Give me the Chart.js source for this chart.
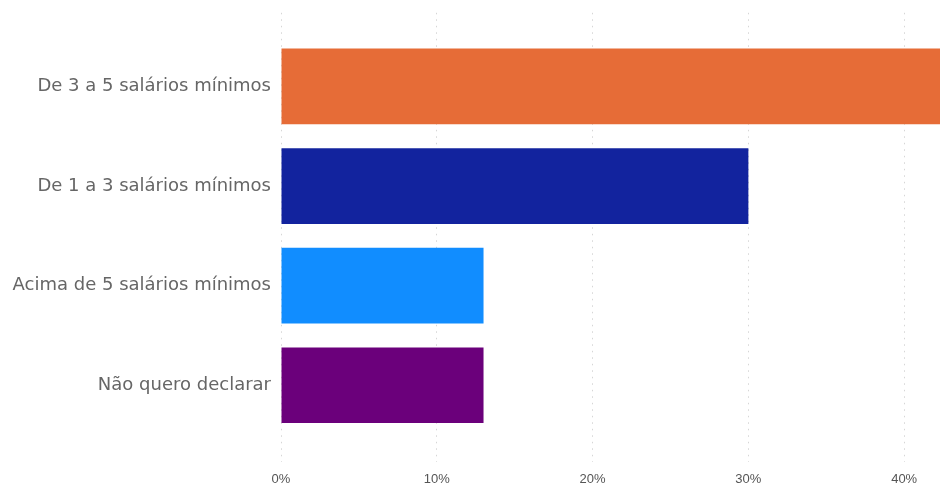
<!DOCTYPE html>
<html>
<head>
<meta charset="utf-8">
<script src="https://cdn.jsdelivr.net/npm/chart.js@4"></script>
<style>
  html, body { margin: 0; padding: 0; background: #ffffff; }
  #wrap { width: 940px; height: 483px; position: relative; }
</style>
</head>
<body>
<div id="wrap"><canvas id="c"></canvas></div>
<script>
// Faixa de renda dos respondentes (% do total)
const categories = [
  'De 3 a 5 salários mínimos',
  'De 1 a 3 salários mínimos',
  'Acima de 5 salários mínimos',
  'Não quero declarar'
];
const shares = [44, 30, 13, 13];
const barColors = ['#E66C37', '#12239E', '#118DFF', '#6B007B'];
const xTicks = [0, 10, 20, 30, 40];

const points = shares.map((v, i) => ({ x: v, y: i }));

new Chart(document.getElementById('c'), {
  type: 'bar',
  data: {
    datasets: [{
      data: points,
      backgroundColor: barColors,
      borderWidth: 0,
      categoryPercentage: 0.95,
      barPercentage: 0.8
    }]
  },
  options: {
    indexAxis: 'y',
    responsive: true,
    maintainAspectRatio: false,
    animation: false,
    layout: { padding: { top: 8, right: 0, bottom: 0, left: 0 } },
    plugins: { legend: { display: false }, tooltip: { enabled: false } },
    scales: {
      x: {
        type: 'linear',
        min: 0,
        max: 42.3,
        afterBuildTicks: s => { s.ticks = xTicks.map(v => ({ value: v })); },
        afterFit: s => { s.height = 21; },
        ticks: {
          callback: v => v + '%',
          color: '#555555',
          padding: 10,
          maxRotation: 0,
          font: { family: '"Liberation Sans", Arial, sans-serif', size: 13 }
        },
        grid: {
          color: '#d6d6d6',
          lineWidth: 1,
          drawTicks: false
        },
        border: { display: false, dash: [1.5, 5] }
      },
      y: {
        type: 'linear',
        reverse: true,
        offset: false,
        min: -0.7394,
        max: 3.7705,
        afterBuildTicks: s => { s.ticks = categories.map((_, i) => ({ value: i })); },
        afterFit: s => { s.width = 281; },
        ticks: {
          callback: v => categories[v],
          color: '#666666',
          padding: 2,
          font: { family: '"DejaVu Sans", sans-serif', size: 18 }
        },
        grid: { display: false },
        border: { display: false }
      }
    }
  }
});
</script>
</body>
</html>
